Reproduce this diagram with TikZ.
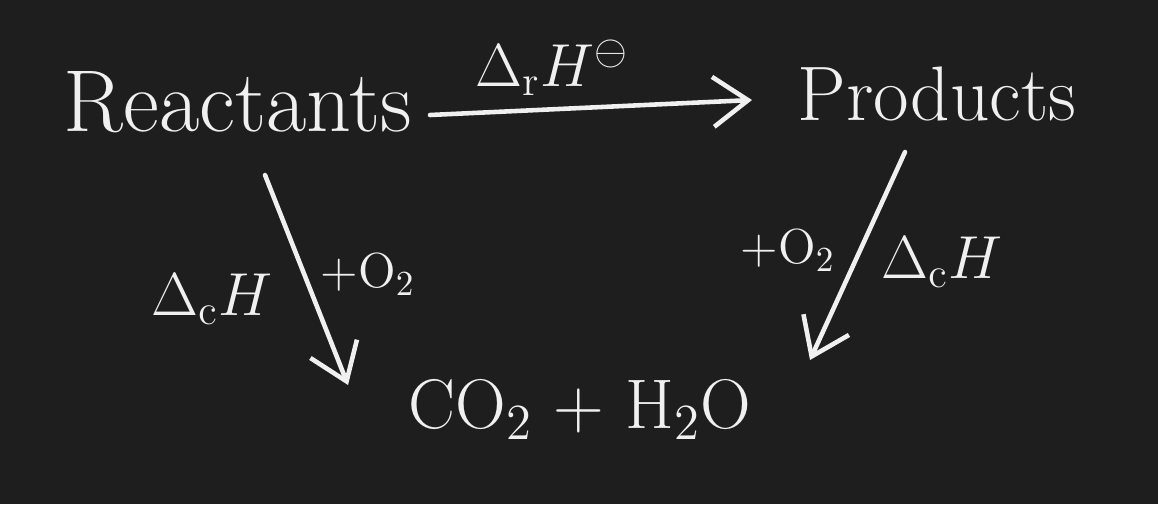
\documentclass[tikz,border=0pt]{standalone}
\usepackage{amsmath}
\usepackage{xcolor}
\usepackage{tikz}
\usetikzlibrary{arrows.meta}
\definecolor{board}{HTML}{1E1E1E}
\definecolor{chalk}{HTML}{F0F0F0}

\begin{document}
\begin{tikzpicture}[line width=1.3pt,color=chalk,
  big/.style={font=\fontsize{22}{26}\selectfont},
  lab/.style={font=\fontsize{18}{22}\selectfont},
  small/.style={font=\fontsize{14}{17}\selectfont},
  arr/.style={-{Straight Barb[length=3.5mm,width=5mm]},line cap=round}]
\fill[board] (0,0) rectangle (11.58,5.04);
\useasboundingbox (0,0) rectangle (11.58,5.04);
\node[big,font=\fontsize{25}{29}\selectfont] (reac) at (2.38,4.02) {Reactants};
\node[big] (prod) at (9.37,4.1) {Products};
\node[big,font=\fontsize{20}{24}\selectfont] (comb) at (5.8,0.95) {CO$_2$ + H$_2$O};
\coordinate (h1) at (4.3,3.89);
\coordinate (h2) at (7.52,4.04);
\coordinate (l1) at (2.65,3.29);
\coordinate (l2) at (3.48,1.19);
\coordinate (r1) at (9.05,3.52);
\coordinate (r2) at (8.1,1.44);
\draw[arr] (h1) -- (h2);
\draw[arr] (l1) -- (l2);
\draw[arr] (r1) -- (r2);
\node[lab] (dr) at (5.52,4.36) {$\Delta_{\mathrm{r}}H^{\ominus}$};
\node[lab] (dcl) at (2.12,2.05) {$\Delta_{\mathrm{c}}H$};
\node[small] (ol) at (3.68,2.3) {+O$_2$};
\node[small] (or) at (7.88,2.54) {+O$_2$};
\node[lab] (dcr) at (9.42,2.42) {$\Delta_{\mathrm{c}}H$};
\end{tikzpicture}
\end{document}
